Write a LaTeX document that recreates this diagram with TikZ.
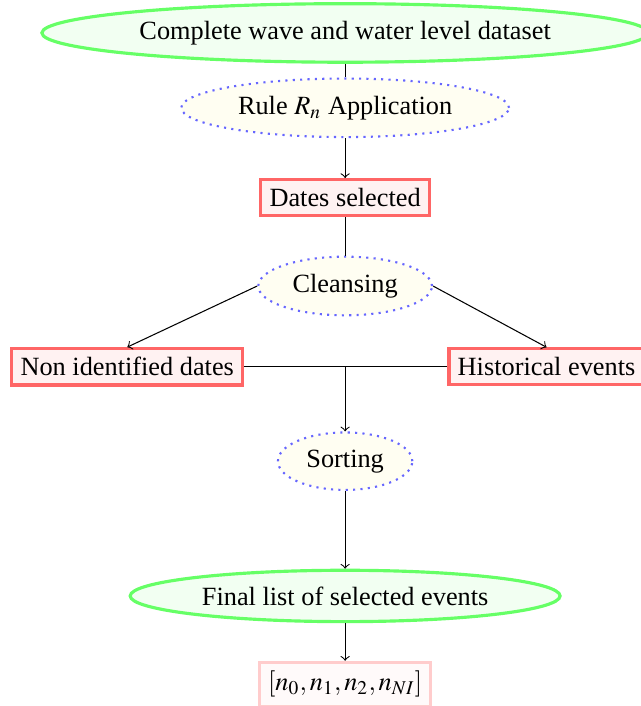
\documentclass[tikz,border=0pt]{standalone}
\usepackage{amsmath}
\usepackage{mathptmx}
\usepackage[no-math]{fontspec}
\setmainfont{Liberation Serif}
\usetikzlibrary{shapes.geometric}
\usetikzlibrary{positioning}
\tikzset{dataset/.style = {ellipse, draw = green!60, fill = green!5, very thick},
         process/.style = {ellipse, draw = blue!60, fill = yellow!5, thick, dotted},
         result/.style = {rectangle, draw = red!60, fill = red!5, very thick},
         output/.style = {rectangle, draw = red!20, fill = red!2, very thick}}

\begin{document}
\begin{tikzpicture}
      \useasboundingbox (-4.61, 0.44) rectangle (3.95, -8.99);
      \node [dataset] (data) at (0, 0) {Complete wave and water level dataset};
      \node [process] (rule) at (0, -1) {Rule $R_n$ Application};
      \node [result] (dates) at (0, -2.2) {Dates selected};
      \node [process] (clean) at (0, -3.38) {Cleansing};
      \node [result] (nonid) at (-2.91, -4.46) {Non identified dates};
      \node [result] (hist) at (2.69, -4.46) {Historical events};
      \node [process] (sort) at (0, -5.72) {Sorting};
      \node [dataset] (final) at (0, -7.52) {Final list of selected events};
      \node [output] (list) at (0, -8.7) {$[n_0, n_1, n_2, n_{NI}]$};
      \coordinate (merge) at (0, -4.46);

      \draw (data) -- (rule);
      \draw [->] (rule) -- (dates);
      \draw (dates) -- (clean);
      \draw [->] (clean.west) -- (nonid.north);
      \draw [->] (clean.east) -- (hist.north);
      \draw (nonid) -- (hist);
      \draw [->] (merge) -- (sort);
      \draw [->] (sort) -- (final);
      \draw [->] (final) -- (list);
    \end{tikzpicture}
\end{document}
